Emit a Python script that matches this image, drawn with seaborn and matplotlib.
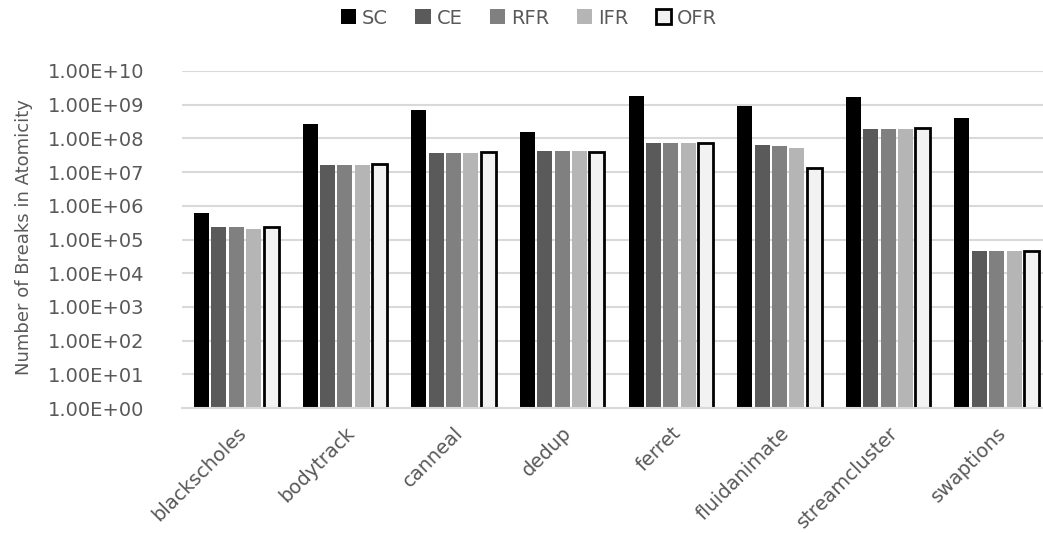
import matplotlib
matplotlib.use("Agg")
import matplotlib.pyplot as plt
from matplotlib.patches import Patch
from matplotlib.ticker import FixedLocator, FuncFormatter, NullLocator
import seaborn as sns
import pandas as pd

benchmarks = ["blackscholes", "bodytrack", "canneal", "dedup", "ferret",
              "fluidanimate", "streamcluster", "swaptions"]
schemes = ["SC", "CE", "RFR", "IFR", "OFR"]

sc_vals = [6.3e5, 2.6e8, 7.2e8, 1.5e8, 1.8e9, 8.9e8, 1.65e9, 3.9e8]
ce_vals = [2.3e5, 1.6e7, 3.8e7, 4.1e7, 7.5e7, 6.3e7, 1.95e8, 4.6e4]
rfr_vals = [2.3e5, 1.6e7, 3.8e7, 4.1e7, 7.5e7, 5.8e7, 1.95e8, 4.6e4]
ifr_vals = [2.1e5, 1.6e7, 3.8e7, 4.1e7, 7.5e7, 5.3e7, 1.95e8, 4.6e4]
ofr_vals = [2.4e5, 1.7e7, 4.0e7, 4.0e7, 7.3e7, 1.3e7, 2.05e8, 4.7e4]

series = {"SC": sc_vals, "CE": ce_vals, "RFR": rfr_vals, "IFR": ifr_vals, "OFR": ofr_vals}
rows = [(b, s, series[s][i]) for s in schemes for i, b in enumerate(benchmarks)]
df = pd.DataFrame(rows, columns=["benchmark", "scheme", "breaks"])

palette = {"SC": "#000000", "CE": "#5a5a5a", "RFR": "#808080", "IFR": "#b5b5b5", "OFR": "#f2f2f2"}
outlined = {"OFR"}
text_grey = "#595959"

sns.set_style("white")
plt.rcParams["font.family"] = ["DejaVu Sans"]

W, H = 1043, 533
fig = plt.figure(figsize=(W / 100, H / 100), dpi=100)
# the plot area runs slightly past the right edge of the canvas
ax = fig.add_axes([182 / W, 1 - 408 / H, 869 / W, (408 - 71) / H])
ax.set_yscale("log")

sns.barplot(data=df, x="benchmark", y="breaks", hue="scheme", order=benchmarks,
            hue_order=schemes, palette=palette, width=0.8, gap=0.14,
            saturation=1, ax=ax, legend=False)

for cont, name in zip(ax.containers, schemes):
    for bar in cont:
        if name in outlined:
            bar.set_edgecolor("#000000")
            bar.set_linewidth(2.0)
        else:
            bar.set_edgecolor("none")

ax.set_ylim(1, 1e10)
ax.set_xlim(-0.5, len(benchmarks) - 0.5)
ax.yaxis.set_major_locator(FixedLocator([10.0 ** k for k in range(0, 11)]))
ax.yaxis.set_minor_locator(NullLocator())
ax.yaxis.set_major_formatter(FuncFormatter(lambda v, p: f"{v:.2E}"))
ax.grid(axis="y", color="#d9d9d9", linewidth=1.5)
ax.set_axisbelow(True)

for side in ["top", "right", "left"]:
    ax.spines[side].set_visible(False)
ax.spines["bottom"].set_color("#d9d9d9")
ax.spines["bottom"].set_linewidth(1.5)

ax.tick_params(axis="y", length=0, labelsize=14, labelcolor=text_grey, pad=27)
ax.tick_params(axis="x", length=0, labelsize=14, labelcolor=text_grey, pad=11)
plt.setp(ax.get_xticklabels(), rotation=45, ha="right", rotation_mode="anchor")

ax.set_xlabel("")
ax.set_ylabel("")
fig.text(24 / W, 1 - 237 / H, "Number of Breaks in Atomicity", rotation=90,
         ha="center", va="center", fontsize=13, color=text_grey)

handles = [Patch(facecolor=palette[s],
                 edgecolor="#000000" if s in outlined else "none",
                 linewidth=2.0 if s in outlined else 0)
           for s in schemes]
fig.legend(handles, schemes, loc="center", bbox_to_anchor=(529 / W, 1 - 18 / H), ncol=5,
           frameon=False, fontsize=14, handlelength=0.8, handleheight=0.8,
           handletextpad=0.3, columnspacing=1.4, labelcolor=text_grey)

fig.savefig("out.png", dpi=100)
